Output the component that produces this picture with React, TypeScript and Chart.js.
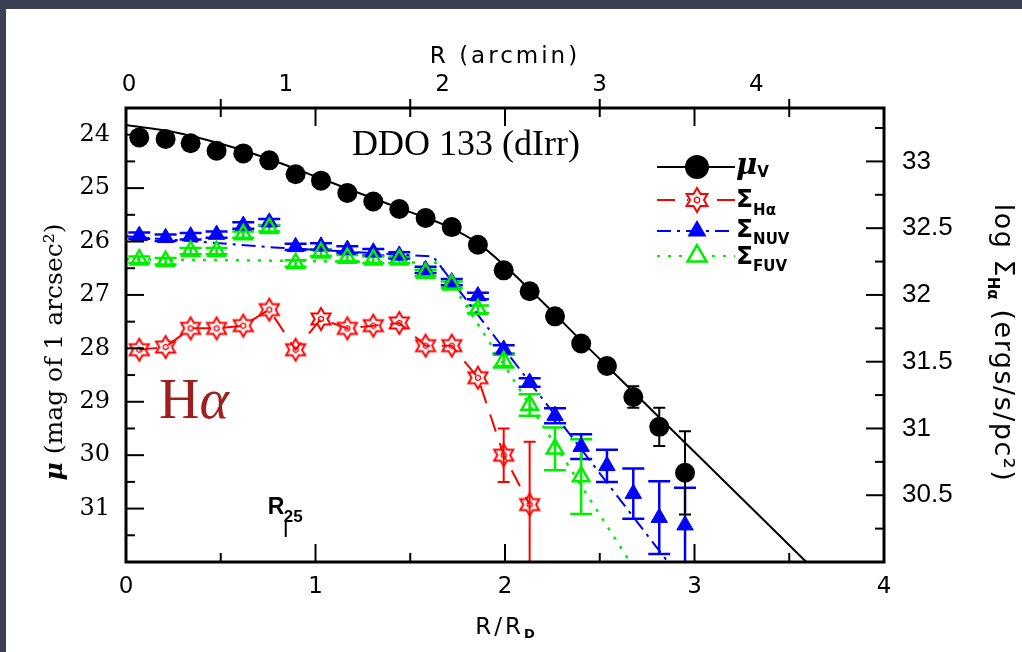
import React, { useEffect, useRef } from "react";
import { Chart, registerables } from "chart.js";
Chart.register(...registerables);

// ---------- data ----------
const R_PTS = [0.070, 0.209, 0.341, 0.478, 0.619, 0.756, 0.895, 1.029, 1.168, 1.305, 1.442, 1.581, 1.719, 1.857, 1.993, 2.130, 2.264, 2.402, 2.538, 2.677, 2.814, 2.950];

const MU_V = [24.05, 24.08, 24.16, 24.30, 24.35, 24.48, 24.74, 24.86, 25.09, 25.25, 25.39, 25.56, 25.73, 26.06, 26.54, 26.93, 27.40, 27.91, 28.33, 28.91, 29.47, 30.33];
const MU_V_ERR = [0, 0, 0, 0, 0, 0, 0, 0, 0, 0, 0, 0, 0, 0, 0, 0, 0, 0, 0, 0.20, 0.36, 0.78];

const LOG_HA = [31.59, 31.61, 31.75, 31.75, 31.77, 31.89, 31.59, 31.82, 31.75, 31.77, 31.79, 31.62, 31.62, 31.38, 30.80, 30.43];
const LOG_HA_ERR = [0, 0, 0, 0, 0, 0, 0, 0, 0, 0, 0, 0, 0, 0, 0.20, 0.47];

const MU_NUV = [25.89, 25.93, 25.90, 25.87, 25.70, 25.64, 26.10, 26.09, 26.15, 26.20, 26.26, 26.53, 26.76, 27.02, 28.02, 28.64, 29.26, 29.84, 30.20, 30.72, 31.17, 31.31];
const MU_NUV_ERR = [0.06, 0.06, 0.06, 0.06, 0.06, 0.06, 0.06, 0.06, 0.06, 0.06, 0.06, 0.06, 0.06, 0.06, 0.08, 0.08, 0.14, 0.23, 0.30, 0.47, 0.68, 0.70];

const MU_FUV = [26.34, 26.37, 26.18, 26.18, 25.87, 25.75, 26.41, 26.21, 26.31, 26.34, 26.34, 26.59, 26.81, 27.27, 28.24, 29.06, 29.88, 30.40];
const MU_FUV_ERR = [0.06, 0.06, 0.06, 0.06, 0.06, 0.06, 0.06, 0.06, 0.06, 0.06, 0.06, 0.06, 0.06, 0.07, 0.12, 0.20, 0.40, 0.70];

const FIT_V_R = [0, 0.25, 0.5, 0.75, 1.0, 1.25, 1.5, 1.7, 1.86, 2.0, 2.5, 3.0, 3.59];
const FIT_V = [23.82, 23.95, 24.17, 24.45, 24.78, 25.12, 25.45, 25.72, 26.04, 26.46, 28.20, 29.94, 32.0];
const FIT_NUV_R = [0, 0.78, 1.62, 2.86];
const FIT_NUV = [25.90, 26.11, 26.28, 32.0];
const FIT_FUV_R = [0, 0.8, 1.65, 2.66];
const FIT_FUV = [26.33, 26.36, 26.40, 32.0];

const R25 = 0.843;

const X_TICKS = [0, 1, 2, 3, 4];
const X_MINOR = [0.5, 1.5, 2.5, 3.5];
const ARCMIN_TICKS = [0, 1, 2, 3, 4];
const ARCMIN_PER_RD = 1.2083;
const MU_TICKS = [24, 25, 26, 27, 28, 29, 30, 31];
const MU_MINOR = [24.5, 25.5, 26.5, 27.5, 28.5, 29.5, 30.5, 31.5];
const LOG_TICKS = [30.5, 31, 31.5, 32, 32.5, 33];
const LOG_MINOR = [30.25, 30.75, 31.25, 31.75, 32.25, 32.75, 33.25];

const BLACK = "#000000";
const RED = "#ff0000";
const BLUE = "#0000ff";
const GREEN = "#00ee00";
const HA_COLOR = "#9e1f1f";

const SANS = '"DejaVu Sans", "Liberation Sans", sans-serif';
const SERIF = '"DejaVu Serif", serif';
const TIMES = '"Liberation Serif", "Times New Roman", serif';
const HELV = '"Liberation Sans", Arial, sans-serif';

// ---------- helpers ----------
function makeStar(color: string, r: number, lw: number) {
  const size = Math.ceil(2 * r + lw * 2 + 2);
  const c = document.createElement("canvas");
  c.width = size;
  c.height = size;
  const g = c.getContext("2d")!;
  const cx = size / 2, cy = size / 2;
  g.strokeStyle = color;
  g.lineWidth = lw;
  g.lineJoin = "miter";
  g.beginPath();
  for (let i = 0; i < 12; i++) {
    const a = -Math.PI / 2 + (i * Math.PI) / 6;
    const rr = i % 2 === 0 ? r : r * 0.58;
    const x = cx + rr * Math.cos(a), y = cy + rr * Math.sin(a);
    if (i === 0) g.moveTo(x, y); else g.lineTo(x, y);
  }
  g.closePath();
  g.stroke();
  g.lineWidth = 1.3;
  g.beginPath();
  for (let i = 0; i < 6; i++) {
    const a = -Math.PI / 2 + (i * Math.PI) / 3;
    const x = cx + r * 0.25 * Math.cos(a), y = cy + r * 0.25 * Math.sin(a);
    if (i === 0) g.moveTo(x, y); else g.lineTo(x, y);
  }
  g.closePath();
  g.stroke();
  return c;
}

type Seg = { t: string; f: string; dy?: number; ls?: string };
function drawRich(ctx: CanvasRenderingContext2D, segs: Seg[], x: number, y: number, rot: number, align: "center" | "left", color = "#000") {
  ctx.save();
  ctx.translate(x, y);
  ctx.rotate(rot);
  ctx.fillStyle = color;
  ctx.textBaseline = "alphabetic";
  ctx.textAlign = "left";
  let w = 0;
  for (const s of segs) {
    ctx.font = s.f;
    (ctx as any).letterSpacing = s.ls || "0px";
    w += ctx.measureText(s.t).width;
  }
  let cx = align === "center" ? -w / 2 : 0;
  for (const s of segs) {
    ctx.font = s.f;
    (ctx as any).letterSpacing = s.ls || "0px";
    ctx.fillText(s.t, cx, s.dy || 0);
    cx += ctx.measureText(s.t).width;
  }
  ctx.restore();
}

const pts = (xs: number[], ys: number[]) => ys.map((y, i) => ({ x: xs[i], y }));

export default function App() {
  const ref = useRef<HTMLCanvasElement>(null);

  useEffect(() => {
    const starImg = makeStar(RED, 11, 2);
    const legendStar = makeStar(RED, 12, 2);

    const errorBars = {
      id: "errorBars",
      beforeDatasetsDraw(chart: any) {
        const ctx = chart.ctx as CanvasRenderingContext2D;
        const a = chart.chartArea;
        ctx.save();
        ctx.beginPath();
        ctx.rect(a.left, a.top, a.right - a.left, a.bottom - a.top);
        ctx.clip();
        chart.data.datasets.forEach((ds: any, i: number) => {
          if (!ds.errors) return;
          const meta = chart.getDatasetMeta(i);
          const xs = chart.scales[meta.xAxisID];
          const ys = chart.scales[meta.yAxisID];
          ctx.strokeStyle = ds.borderColor;
          ctx.lineWidth = ds.errWidth || 2;
          ctx.setLineDash([]);
          const cap = ds.capHalf || 6;
          ds.data.forEach((p: any, j: number) => {
            const e = ds.errors[j];
            if (!e) return;
            const x = xs.getPixelForValue(p.x);
            const y1 = ys.getPixelForValue(p.y - e);
            const y2 = ys.getPixelForValue(p.y + e);
            ctx.beginPath();
            ctx.moveTo(x, y1); ctx.lineTo(x, y2);
            ctx.moveTo(x - cap, y1); ctx.lineTo(x + cap, y1);
            ctx.moveTo(x - cap, y2); ctx.lineTo(x + cap, y2);
            ctx.stroke();
          });
        });
        ctx.restore();
      },
    };

    const decorations = {
      id: "decorations",
      afterDraw(chart: any) {
        const ctx = chart.ctx as CanvasRenderingContext2D;
        const a = chart.chartArea;
        const xs = chart.scales.x, ys = chart.scales.y, y2s = chart.scales.y2;
        ctx.save();
        ctx.strokeStyle = "#000";
        ctx.setLineDash([]);
        ctx.lineWidth = 2;
        const seg = (x1: number, y1: number, x2: number, y2: number) => {
          ctx.beginPath(); ctx.moveTo(x1, y1); ctx.lineTo(x2, y2); ctx.stroke();
        };
        X_TICKS.forEach((v) => { const x = xs.getPixelForValue(v); seg(x, a.bottom, x, a.bottom - 18); seg(x, a.top, x, a.top + 18); });
        X_MINOR.forEach((v) => { const x = xs.getPixelForValue(v); seg(x, a.bottom, x, a.bottom - 9); seg(x, a.top - 9, x, a.top + 9); });
        MU_TICKS.forEach((v) => { const y = ys.getPixelForValue(v); seg(a.left, y, a.left + 18, y); });
        MU_MINOR.forEach((v) => { const y = ys.getPixelForValue(v); seg(a.left, y, a.left + 9, y); });
        LOG_TICKS.forEach((v) => { const y = y2s.getPixelForValue(v); seg(a.right, y, a.right - 18, y); });
        LOG_MINOR.forEach((v) => { const y = y2s.getPixelForValue(v); seg(a.right, y, a.right - 9, y); });
        ctx.lineWidth = 3;
        ctx.strokeRect(a.left, a.top, a.right - a.left, a.bottom - a.top);

        // R25 marker
        const xr = xs.getPixelForValue(R25);
        ctx.lineWidth = 2;
        seg(xr, a.bottom - 42, xr, a.bottom - 25);
        drawRich(ctx, [{ t: "R", f: `bold 23px ${HELV}` }], xr - 18, a.bottom - 48, 0, "left");
        drawRich(ctx, [{ t: "25", f: `bold 17px ${HELV}` }], xr - 2, a.bottom - 40, 0, "left");

        // titles
        const midX = (a.left + a.right) / 2;
        drawRich(ctx, [{ t: "R/R", f: `23px ${SANS}`, ls: "3px" }, { t: "D", f: `bold 13px ${SANS}`, dy: 4 }], midX, 634, 0, "center");
        drawRich(ctx, [{ t: "R (arcmin)", f: `23px ${SANS}`, ls: "3px" }], midX, 63, 0, "center");
        drawRich(ctx, [{ t: "μ", f: `bold italic 25px ${SERIF}` }, { t: " (mag of 1 arcsec²)", f: `25px ${SERIF}` }], 62, 352, -Math.PI / 2, "center");
        drawRich(ctx, [
          { t: "log ", f: `27px ${SANS}`, ls: "1.5px" },
          { t: "Σ", f: `27px ${SANS}` },
          { t: "Hα", f: `bold 15px ${SANS}`, dy: 7 },
          { t: " (ergs/s/pc²)", f: `27px ${SANS}`, ls: "1.5px" },
        ], 995, 343, Math.PI / 2, "center");

        // annotations
        drawRich(ctx, [{ t: "DDO 133 (dIrr)", f: `36px ${TIMES}` }], 352, 155, 0, "left");
        drawRich(ctx, [{ t: "H", f: `56px ${TIMES}` }, { t: "α", f: `italic 56px ${TIMES}` }], 159, 418, 0, "left", HA_COLOR);

        // legend
        const lx0 = 657, lx1 = 735, mx = 697;
        const rows = [
          { y: 167, color: BLACK, dash: [] as number[] },
          { y: 200, color: RED, dash: [18, 12] },
          { y: 231, color: BLUE, dash: [14, 6, 3, 6] },
          { y: 256, color: GREEN, dash: [3, 8] },
        ];
        rows.forEach((r) => {
          ctx.strokeStyle = r.color;
          ctx.lineWidth = 2;
          ctx.setLineDash(r.dash);
          seg(lx0, r.y, lx1, r.y);
        });
        ctx.setLineDash([]);
        ctx.fillStyle = BLACK;
        ctx.beginPath(); ctx.arc(mx, rows[0].y, 12, 0, Math.PI * 2); ctx.fill();
        ctx.fillStyle = "#fff";
        ctx.beginPath(); ctx.arc(mx, rows[1].y, 9, 0, Math.PI * 2); ctx.fill();
        ctx.drawImage(legendStar, mx - legendStar.width / 2, rows[1].y - legendStar.height / 2);
        const tri = (cy: number, fill: boolean, color: string) => {
          const r = 11;
          ctx.beginPath();
          for (let i = 0; i < 3; i++) {
            const ang = -Math.PI / 2 + (i * 2 * Math.PI) / 3;
            const x = mx + r * Math.cos(ang), y = cy + r * Math.sin(ang);
            if (i === 0) ctx.moveTo(x, y); else ctx.lineTo(x, y);
          }
          ctx.closePath();
          if (fill) { ctx.fillStyle = color; ctx.fill(); }
          else { ctx.fillStyle = "#fff"; ctx.fill(); ctx.strokeStyle = color; ctx.lineWidth = 2.5; ctx.stroke(); }
        };
        tri(rows[2].y, true, BLUE);
        tri(rows[3].y, false, GREEN);
        drawRich(ctx, [{ t: "μ", f: `bold italic 29px ${SERIF}` }, { t: "V", f: `bold 15px ${SANS}`, dy: 3 }], 736, 174, 0, "left");
        drawRich(ctx, [{ t: "Σ", f: `bold 25px ${SANS}` }, { t: "Hα", f: `bold 15px ${SANS}`, dy: 8 }], 736, 207, 0, "left");
        drawRich(ctx, [{ t: "Σ", f: `bold 25px ${SANS}` }, { t: "NUV", f: `bold 15px ${SANS}`, dy: 7 }], 736, 237, 0, "left");
        drawRich(ctx, [{ t: "Σ", f: `bold 25px ${SANS}` }, { t: "FUV", f: `bold 15px ${SANS}`, dy: 7 }], 736, 264, 0, "left");
        ctx.restore();
      },
    };

    const tickFontSmall = { family: SANS, size: 23 };
    const noGrid = { display: false, drawTicks: false, tickLength: 0 };

    const chart = new Chart(ref.current!, {
      type: "scatter",
      data: {
        datasets: [
          {
            label: "μV fit", data: pts(FIT_V_R, FIT_V), showLine: true, borderColor: BLACK, borderWidth: 2,
            pointRadius: 0, cubicInterpolationMode: "monotone", xAxisID: "x", yAxisID: "y", order: 10,
          },
          {
            label: "NUV fit", data: pts(FIT_NUV_R, FIT_NUV), showLine: true, borderColor: BLUE, borderWidth: 2,
            borderDash: [14, 6, 3, 6], pointRadius: 0, xAxisID: "x", yAxisID: "y", order: 11,
          },
          {
            label: "FUV fit", data: pts(FIT_FUV_R, FIT_FUV), showLine: true, borderColor: GREEN, borderWidth: 2.5,
            borderDash: [3, 8], pointRadius: 0, xAxisID: "x", yAxisID: "y", order: 12,
          },
          {
            label: "ΣNUV", data: pts(R_PTS, MU_NUV), showLine: false, pointStyle: "triangle", pointRadius: 9.5,
            backgroundColor: BLUE, borderColor: BLUE, borderWidth: 1, errors: MU_NUV_ERR, capHalf: 11, errWidth: 2.5,
            xAxisID: "x", yAxisID: "y", order: 5,
          } as any,
          {
            label: "ΣFUV", data: pts(R_PTS, MU_FUV), showLine: false, pointStyle: "triangle", pointRadius: 9.5,
            backgroundColor: "rgba(0,0,0,0)", borderColor: GREEN, borderWidth: 2.5, errors: MU_FUV_ERR, capHalf: 11, errWidth: 2.5,
            xAxisID: "x", yAxisID: "y", order: 4,
          } as any,
          {
            label: "ΣHα", data: pts(R_PTS, LOG_HA), showLine: true, pointStyle: starImg, pointRadius: 11,
            borderColor: RED, backgroundColor: RED, borderWidth: 2, borderDash: [18, 12], errors: LOG_HA_ERR, capHalf: 6, errWidth: 2,
            xAxisID: "x", yAxisID: "y2", order: 3,
          } as any,
          {
            label: "μV", data: pts(R_PTS, MU_V), showLine: false, pointStyle: "circle", pointRadius: 10,
            backgroundColor: BLACK, borderColor: BLACK, borderWidth: 0, errors: MU_V_ERR, capHalf: 6, errWidth: 2,
            xAxisID: "x", yAxisID: "y", order: 1,
          } as any,
        ],
      },
      options: {
        responsive: false,
        maintainAspectRatio: false,
        devicePixelRatio: 1,
        animation: false,
        layout: { padding: 0 },
        plugins: { legend: { display: false }, tooltip: { enabled: false } },
        scales: {
          x: {
            type: "linear", position: "bottom", min: 0, max: 4,
            afterBuildTicks: (s: any) => { s.ticks = X_TICKS.map((v) => ({ value: v })); },
            afterFit: (s: any) => { s.height = 90; },
            grid: noGrid, border: { display: false },
            ticks: { font: tickFontSmall, color: "#000", padding: 11, maxRotation: 0, autoSkip: false, callback: (v: any) => String(v) },
          },
          x2: {
            type: "linear", position: "top", min: 0, max: 4 * ARCMIN_PER_RD,
            afterBuildTicks: (s: any) => { s.ticks = ARCMIN_TICKS.map((v) => ({ value: v })); },
            afterFit: (s: any) => { s.height = 108; },
            grid: noGrid, border: { display: false },
            ticks: { font: tickFontSmall, color: "#000", padding: 9, labelOffset: 3, maxRotation: 0, autoSkip: false, callback: (v: any) => String(v) },
          },
          y: {
            type: "linear", position: "left", reverse: true, min: 23.5, max: 32,
            afterBuildTicks: (s: any) => { s.ticks = MU_TICKS.map((v) => ({ value: v })); },
            afterFit: (s: any) => { s.width = 126; },
            grid: noGrid, border: { display: false },
            ticks: { font: { family: SERIF, size: 24 }, color: "#000", padding: 16, autoSkip: false, callback: (v: any) => String(v) },
          },
          y2: {
            type: "linear", position: "right", min: 30.0, max: 33.4,
            afterBuildTicks: (s: any) => { s.ticks = LOG_TICKS.map((v) => ({ value: v })); },
            afterFit: (s: any) => { s.width = 138; },
            grid: noGrid, border: { display: false },
            ticks: { font: { family: HELV, size: 26 }, color: "#000", padding: 18, autoSkip: false, callback: (v: any) => String(v) },
          },
        },
      } as any,
      plugins: [errorBars, decorations],
    } as any);

    return () => chart.destroy();
  }, []);

  return (
    <div style={{ position: "fixed", left: 0, top: 0, width: 1022, height: 652, background: "#3d3f54", overflow: "hidden" }}>
      <div style={{ position: "absolute", left: 6, top: 9, right: 0, bottom: 0, background: "#ffffff" }} />
      <canvas ref={ref} width={1022} height={652} style={{ position: "absolute", left: 0, top: 0, width: 1022, height: 652 }} />
    </div>
  );
}
